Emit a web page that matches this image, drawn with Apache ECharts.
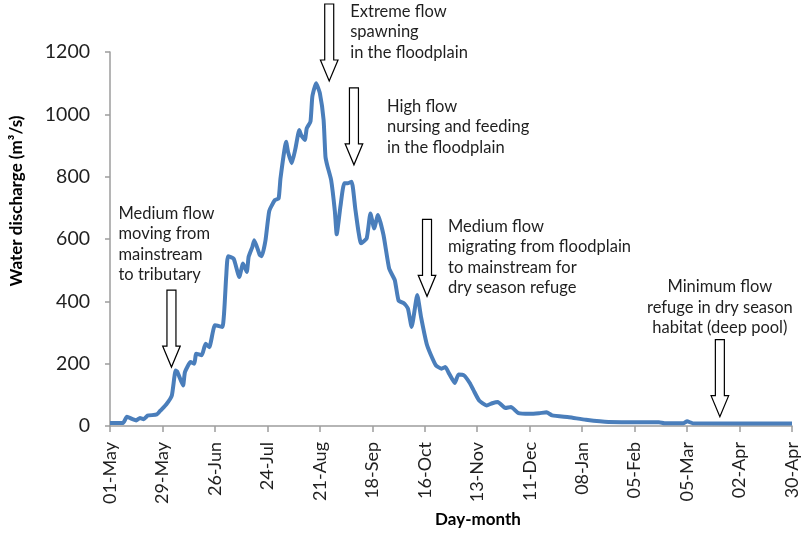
<!DOCTYPE html>
<html>
<head>
<meta charset="utf-8">
<script src="https://cdn.jsdelivr.net/npm/echarts@6/dist/echarts.min.js"></script>
<style>
  html, body { margin: 0; padding: 0; background: #fff; }
  #chart { width: 811px; height: 534px; }
</style>
</head>
<body>
<div id="chart"></div>
<script>
// Tick labels, one every 28 days from 01-May
const tickLabels = ['01-May', '29-May', '26-Jun', '24-Jul', '21-Aug', '18-Sep', '16-Oct',
  '13-Nov', '11-Dec', '08-Jan', '05-Feb', '05-Mar', '02-Apr', '30-Apr'];

const days = [0, 7, 9, 12, 14, 16, 18, 20, 25, 27, 30, 33, 35, 36, 39, 40, 43, 45, 46, 49,
  51, 53, 56, 60, 62, 63, 66, 69, 71, 73, 74, 76, 77, 80, 81, 83, 85, 88, 90, 91,
  94, 95, 97, 99, 101, 102, 104, 105, 107, 108, 110, 112, 114, 115, 116, 118, 120, 121, 123, 125,
  127, 129, 131, 134, 137, 139, 141, 143, 146, 149, 152, 154, 157, 159, 161, 164, 166, 169, 171, 174,
  177, 179, 181, 184, 186, 189, 192, 194, 197, 201, 204, 207, 211, 214, 218, 224, 229, 233, 236, 245,
  254, 266, 293, 296, 306, 308, 311, 364];
const flow = [10, 10, 30, 22, 18, 26, 22, 33, 37, 50, 69, 98, 178, 173, 130, 173, 205, 200, 232, 227,
  264, 253, 323, 318, 478, 545, 537, 478, 521, 494, 543, 575, 596, 548, 545, 596, 690, 725, 730, 795,
  912, 880, 843, 891, 950, 934, 918, 955, 977, 1057, 1100, 1068, 982, 864, 835, 790, 690, 615, 705, 779,
  779, 784, 693, 586, 602, 682, 634, 677, 612, 505, 468, 403, 393, 377, 318, 420, 350, 264, 232, 194,
  184, 189, 168, 138, 165, 162, 138, 115, 82, 66, 73, 77, 58, 61, 41, 39, 41, 44, 34, 28,
  20, 13, 12, 9, 9, 15, 9, 8];

// Annotations: arrow tip in data units, text lines, text offset from the tip
const notes = [
  { day: 32.8, value: 189, lines: ['Medium flow', 'moving from', 'mainstream', 'to tributary'], dx: -53, dy: -164, align: 'left' },
  { day: 117, value: 1107, lines: ['Extreme flow', 'spawning', 'in the floodplain'], dx: 21, dy: -80, align: 'left' },
  { day: 130.2, value: 838, lines: ['High flow', 'nursing and feeding', 'in the floodplain'], dx: 33, dy: -68.5, align: 'left' },
  { day: 169.2, value: 416, lines: ['Medium flow', 'migrating from floodplain', 'to mainstream for', 'dry season refuge'], dx: 21, dy: -80, align: 'left' },
  { day: 325.5, value: 30, lines: ['Minimum flow', 'refuge in dry season', 'habitat (deep pool)'], dx: 0, dy: -140, align: 'center' }
];

const FONT = 'Lato, "Open Sans", sans-serif';
const TEXT = '#1f1f1f';
const AXIS = '#9d9d9d';

const chart = echarts.init(document.getElementById('chart'), null, { renderer: 'canvas' });

const option = {
  animation: false,
  backgroundColor: '#fff',
  grid: { left: 110, right: 19, top: 52, bottom: 108, containLabel: false },
  xAxis: {
    type: 'value',
    min: 0,
    max: 364,
    interval: 28,
    splitLine: { show: false },
    axisLine: { show: true, lineStyle: { color: AXIS, width: 1.5 } },
    axisTick: { show: true, length: 6, lineStyle: { color: AXIS, width: 1.5 } },
    axisLabel: {
      rotate: 90,
      margin: 16,
      fontSize: 18,
      fontFamily: FONT,
      color: TEXT,
      formatter: (v) => tickLabels[Math.round(v / 28)] || ''
    }
  },
  yAxis: {
    type: 'value',
    min: 0,
    max: 1200,
    interval: 200,
    splitLine: { show: false },
    axisLine: { show: true, lineStyle: { color: AXIS, width: 1.5 } },
    axisTick: { show: true, length: 5, lineStyle: { color: AXIS, width: 1.5 } },
    axisLabel: { margin: 20, fontSize: 19.5, fontFamily: FONT, color: TEXT, formatter: (v) => String(v) }
  },
  series: [{
    type: 'line',
    data: days.map((d, i) => [d, flow[i]]),
    showSymbol: false,
    smooth: 0.15,
    lineStyle: { color: '#4a7ebb', width: 4 },
    z: 3
  }]
};

chart.setOption(option);

// Arrow outline relative to its tip (pointing down)
const arrowShape = [[-4.5, -77], [4.5, -77], [4.5, -21], [8.8, -21], [0, 0], [-8.8, -21], [-4.5, -21]];

const graphics = [
  {
    type: 'text', x: 17, y: 201, rotation: Math.PI / 2,
    style: { text: 'Water discharge (m³/s)', fontSize: 17, fontWeight: 'bold', fontFamily: FONT, fill: '#000',
      align: 'center', verticalAlign: 'middle', textAlign: 'center', textVerticalAlign: 'middle' }
  },
  {
    type: 'text', x: 478, y: 520,
    style: { text: 'Day-month', fontSize: 17, fontWeight: 'bold', fontFamily: FONT, fill: '#000',
      align: 'center', verticalAlign: 'middle', textAlign: 'center', textVerticalAlign: 'middle' }
  }
];

notes.forEach((n) => {
  const [tx, ty] = chart.convertToPixel({ gridIndex: 0 }, [n.day, n.value]);
  graphics.push({
    type: 'polygon',
    shape: { points: arrowShape.map(([x, y]) => [tx + x, ty + y]) },
    style: { fill: '#fff', stroke: '#000', lineWidth: 1.2 },
    z: 10
  });
  graphics.push({
    type: 'text', x: tx + n.dx, y: ty + n.dy,
    style: { text: n.lines.join('\n'), fontSize: 16.5, fontFamily: FONT, fill: TEXT, lineHeight: 20.5,
      align: n.align, verticalAlign: 'top', textAlign: n.align, textVerticalAlign: 'top' },
    z: 10
  });
});

chart.setOption({ graphic: graphics });
window.addEventListener('resize', () => chart.resize());
</script>
</body>
</html>
